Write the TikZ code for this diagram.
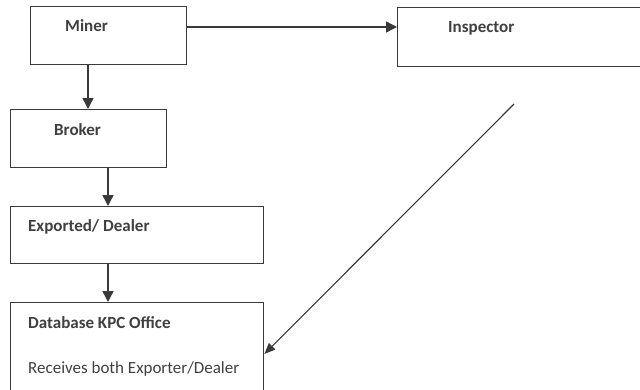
\documentclass[tikz,border=0pt]{standalone}
\usepackage{fontspec}
\setmainfont{Carlito}
\usetikzlibrary{arrows.meta}
\definecolor{ink}{HTML}{3A3A3A}
\definecolor{txt}{HTML}{404040}
\tikzset{
  box/.style={draw=ink, line width=1.4pt, inner sep=0pt, anchor=north west},
  lbl/.style={text=txt, font=\fontsize{17}{19}\selectfont\bfseries, inner sep=0pt, anchor=base west},
  plain/.style={text=txt, font=\fontsize{17}{19}\selectfont, inner sep=0pt, anchor=base west},
  arr/.style={draw=ink, line width=1.4pt, -{Triangle[length=11pt,width=11pt]}},
  thin/.style={draw=ink, line width=1.1pt, -{Triangle[length=11pt,width=9pt]}}
}
\begin{document}
\begin{tikzpicture}[x=1pt,y=-1pt]
\useasboundingbox (0,0) rectangle (640,389);
\clip (0,0) rectangle (640,389);
\fill[white] (0,0) rectangle (640,389);
% boxes
\node[box, minimum width=156pt, minimum height=58pt] (miner) at (30,6) {};
\node[box, minimum width=156pt, minimum height=58pt] (broker) at (10,109) {};
\node[box, minimum width=253pt, minimum height=57pt] (exp) at (10,206) {};
\node[box, minimum width=253pt, minimum height=120pt] (db) at (10,302) {};
\node[box, minimum width=260pt, minimum height=59pt] (insp) at (397,7) {};
% texts
\node[lbl] (tminer) at (65,31) {Miner};
\node[lbl] (tbroker) at (54,135) {Broker};
\node[lbl] (tinsp) at (448,32) {Inspector};
\node[lbl] (texp) at (28,231) {Exported/ Dealer};
\node[lbl] (tdb) at (28,328) {Database KPC Office};
\node[plain] (trec) at (28,373) {Receives both Exporter/Dealer};
% connectors
\draw[arr] (miner.south west) ++(58,0) coordinate (m1) -- (m1 |- broker.north);
\draw[arr] (broker.south west) ++(98,0) coordinate (b1) -- (b1 |- exp.north);
\draw[arr] (exp.south west) ++(98,0) coordinate (e1) -- (e1 |- db.north);
\draw[arr] (miner.east |- 0,27) coordinate (m2) -- (insp.west |- m2);
\coordinate (dstart) at (514,104);
\draw[thin] (dstart) -- (db.north east |- 0,354);
\end{tikzpicture}
\end{document}
